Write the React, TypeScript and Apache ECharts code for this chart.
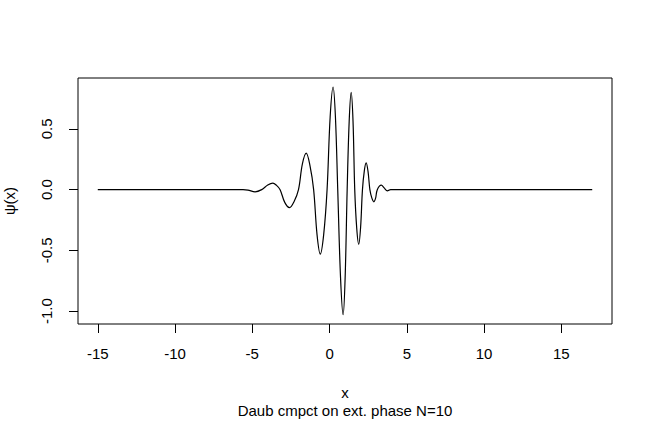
import React, { useEffect, useRef } from "react";
import * as echarts from "echarts";

const xValues = [-15, -5.6, -5.28, -4.82, -4.39, -4.0, -3.67, -3.43, -3.2, -2.9, -2.59, -2.3, -2.01, -1.76, -1.51, -1.27, -1.03, -0.81, -0.6, -0.38, -0.16, 0.04, 0.23, 0.38, 0.53, 0.71, 0.88, 1.01, 1.14, 1.27, 1.4, 1.52, 1.63, 1.76, 1.89, 2.01, 2.13, 2.25, 2.37, 2.49, 2.61, 2.74, 2.87, 2.98, 3.09, 3.35, 3.55, 3.74, 3.95, 17];
const psiValues = [0, 0, -0.004, -0.018, 0, 0.038, 0.054, 0.035, 0, -0.105, -0.148, -0.1, 0, 0.21, 0.3, 0.2, 0, -0.37, -0.53, -0.37, 0, 0.6, 0.845, 0.6, 0, -0.72, -1.03, -0.72, 0, 0.56, 0.8, 0.56, 0, -0.32, -0.45, -0.31, 0, 0.155, 0.22, 0.15, 0, -0.07, -0.1, -0.07, 0, 0.037, 0.012, -0.01, 0, 0];
const xTicks = [-15, -10, -5, 0, 5, 10, 15];
const yTicks = [-1, -0.5, 0, 0.5];
const xTitle = "x";
const yTitle = "ψ(x)";
const subTitle = "Daub cmpct on ext. phase N=10";

const FONT = "'Liberation Sans', Arial, sans-serif";

export default function App() {
  const ref = useRef<HTMLDivElement>(null);
  useEffect(() => {
    if (!ref.current) return;
    const chart = echarts.init(ref.current, null, { renderer: "svg" });
    const data = xValues.map((x, i) => [x, psiValues[i]]);
    chart.setOption({
      animation: false,
      backgroundColor: "#ffffff",
      textStyle: { fontFamily: FONT },
      grid: {
        left: 78,
        right: 40,
        top: 78,
        bottom: 98,
        containLabel: false,
        outerBoundsMode: "none",
        show: true,
        borderColor: "#000",
        borderWidth: 1,
        backgroundColor: "transparent",
      },
      xAxis: {
        type: "value",
        min: -16.28,
        max: 18.28,
        splitLine: { show: false },
        axisLine: { show: false, onZero: false },
        axisTick: {
          show: true,
          inside: false,
          length: 9,
          lineStyle: { color: "#000", width: 1 },
          customValues: xTicks,
        },
        axisLabel: {
          show: true,
          margin: 22,
          fontSize: 15,
          color: "#000",
          fontFamily: FONT,
          customValues: xTicks,
          formatter: (v: number) => String(v),
        },
        name: xTitle,
        nameLocation: "middle",
        nameGap: 61,
        nameTextStyle: { fontSize: 15, color: "#000", fontFamily: FONT },
      },
      yAxis: {
        type: "value",
        min: -1.106,
        max: 0.919,
        splitLine: { show: false },
        axisLine: { show: false, onZero: false },
        axisTick: {
          show: true,
          inside: false,
          length: 9,
          lineStyle: { color: "#000", width: 1 },
          customValues: yTicks,
        },
        axisLabel: {
          show: true,
          margin: 24,
          fontSize: 15,
          color: "#000",
          rotate: 90,
          fontFamily: FONT,
          customValues: yTicks,
          formatter: (v: number) => v.toFixed(1),
        },
        name: yTitle,
        nameLocation: "middle",
        nameRotate: 90,
        nameGap: 61,
        nameTextStyle: { fontSize: 15, color: "#000", fontFamily: FONT },
      },
      graphic: [
        {
          type: "text",
          x: 345,
          y: 410,
          style: {
            text: subTitle,
            fontSize: 15,
            fontFamily: FONT,
            fill: "#000",
            textAlign: "center",
            textVerticalAlign: "middle",
          },
        },
      ],
      series: [
        {
          type: "line",
          data,
          smooth: 0.35,
          showSymbol: false,
          symbol: "none",
          lineStyle: { color: "#000", width: 1.2 },
        },
      ],
    });
    return () => chart.dispose();
  }, []);
  return (
    <div
      ref={ref}
      style={{ position: "fixed", left: 0, top: 0, width: 652, height: 422, background: "#fff" }}
    />
  );
}
